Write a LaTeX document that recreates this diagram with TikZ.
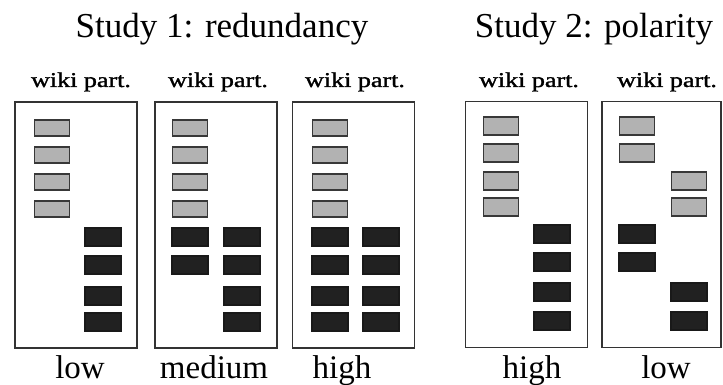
\documentclass[tikz,border=0pt]{standalone}
\usepackage{fontspec}
\setmainfont{Liberation Serif}
\newfontfamily\heavyserif[FakeBold=1.2]{Liberation Serif}
\begin{document}
\begin{tikzpicture}[x=1pt,y=-1pt,
  panel/.style={draw=black!80, line width=1.7pt, fill=white, inner sep=0pt,
    minimum width=122pt, minimum height=246pt},
  gbox/.style={draw=black!78, line width=1.6pt, fill=black!30, inner sep=0pt,
    minimum width=35pt, minimum height=16pt},
  bbox/.style={draw=black!90, line width=1.2pt, fill=black!87, inner sep=0pt,
    minimum width=36pt, minimum height=18pt},
  title/.style={font=\fontsize{35}{40}\selectfont, anchor=base, inner sep=0pt},
  part/.style={font=\heavyserif\fontsize{21}{24}\selectfont, anchor=base, inner sep=0pt},
  level/.style={font=\fontsize{33}{38}\selectfont, anchor=base, inner sep=0pt}]
\useasboundingbox (0,0) rectangle (723,385);

% headings
\node[title] (t1) at (222,38) {Study 1: redundancy};
\node[title] (t2) at (594,38) {Study 2: polarity};

% panel frames
\node[panel] (p1) at (76,225) {};
\node[panel] (p2) at (216,225) {};
\node[panel] (p3) at (353.5,225) {};
\node[panel] (p4) at (526.5,224.5) {};
\node[panel, minimum width=119pt] (p5) at (661.5,224.5) {};

% participant labels above the panels
\foreach \x/\n in {81/w1,218/w2,355/w3,529/w4,667/w5}
  \node[part] (\n) at (\x,87) {\scalebox{1.24}[1]{wiki part.}};

% condition labels below the panels
\node[level] (l1) at (80,378) {low};
\node[level] (l2) at (214,378) {medium};
\node[level] (l3) at (342,378) {high};
\node[level] (l4) at (532,378) {high};
\node[level] (l5) at (666,378) {low};

% Study 1: grey column
\foreach \x/\p in {52/a,190/b,330/c}
  \foreach \y [count=\i] in {128,155,182,209}
    \node[gbox] (g\p\i) at (\x,\y) {};

% Study 1, low: black right column
\foreach \y [count=\i] in {237,265,296,322}
  \node[bbox] (ka\i) at (103,\y) {};
% Study 1, medium
\foreach \y [count=\i] in {237,265}
  \node[bbox] (kb\i) at (190,\y) {};
\foreach \y [count=\i] in {237,265,296,322}
  \node[bbox] (mb\i) at (242,\y) {};
% Study 1, high
\foreach \y [count=\i] in {237,265,296,322}{
  \node[bbox] (kc\i) at (330,\y) {};
  \node[bbox] (mc\i) at (381,\y) {};
}

% Study 2, high
\foreach \y [count=\i] in {126,153,181,207}
  \node[gbox, minimum height=18pt] (gd\i) at (501,\y) {};
\foreach \y [count=\i] in {234,262,292,321}
  \node[bbox] (kd\i) at (552,\y) {};

% Study 2, low
\foreach \y [count=\i] in {126,153}
  \node[gbox, minimum height=18pt] (ge\i) at (637,\y) {};
\foreach \y [count=\i] in {181,207}
  \node[gbox, minimum height=18pt] (he\i) at (689,\y) {};
\foreach \y [count=\i] in {234,262}
  \node[bbox] (ke\i) at (637,\y) {};
\foreach \y [count=\i] in {292,321}
  \node[bbox] (me\i) at (689,\y) {};
\end{tikzpicture}
\end{document}
